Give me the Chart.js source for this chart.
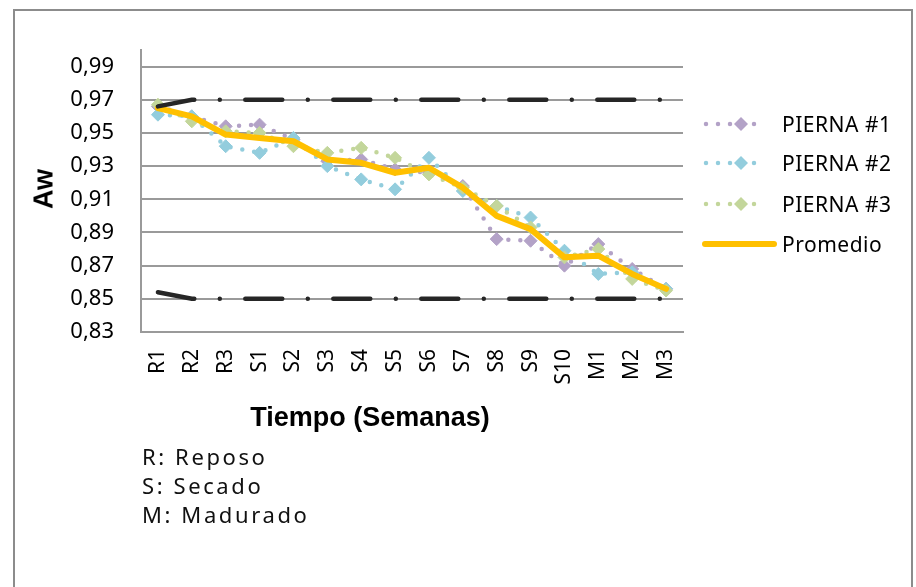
<!DOCTYPE html>
<html>
<head>
<meta charset="utf-8">
<script src="https://cdn.jsdelivr.net/npm/chart.js@4.4.0/dist/chart.umd.min.js"></script>
<style>
  html, body { margin: 0; padding: 0; width: 916px; height: 587px; overflow: hidden; background: #fff; }
  body { position: relative; font-family: "Noto Sans", sans-serif; color: #000; }
  #frame { position: absolute; left: 13px; top: 9px; width: 896px; height: 640px; border: 2px solid #8c8c8c; }
  #wrap { position: absolute; left: 0; top: 0; width: 916px; height: 587px; }
  .ttl { position: absolute; font-family: "Liberation Sans", Arial, sans-serif; font-weight: bold; font-size: 27px; white-space: nowrap; }
  #ytitle { left: 44px; top: 189px; transform: translate(-50%, -50%) rotate(-90deg); }
  #xtitle { left: 370px; top: 417px; transform: translate(-50%, -50%); }
  #notas { position: absolute; left: 142px; top: 442px; font-size: 22px; line-height: 29px; letter-spacing: 2.6px; color: #111; }
  .leg { position: absolute; left: 701px; height: 24px; display: flex; align-items: center; font-size: 21px; letter-spacing: 0.5px; white-space: nowrap; }
  .leg svg { margin-right: 5px; }
</style>
</head>
<body>
<div id="frame"></div>
<div id="wrap"><canvas id="aw-chart"></canvas></div>
<div class="ttl" id="ytitle">Aw</div>
<div class="ttl" id="xtitle">Tiempo (Semanas)</div>
<div id="notas">R: Reposo<br>S: Secado<br>M: Madurado</div>
<div id="leyenda"></div>
<script>
const semanas = ['R1', 'R2', 'R3', 'S1', 'S2', 'S3', 'S4', 'S5', 'S6', 'S7', 'S8', 'S9', 'S10', 'M1', 'M2', 'M3'];
const pierna1 = [0.966, 0.960, 0.954, 0.955, 0.946, 0.933, 0.934, 0.928, 0.926, 0.918, 0.886, 0.885, 0.870, 0.883, 0.868, 0.856];
const pierna2 = [0.961, 0.960, 0.942, 0.938, 0.947, 0.930, 0.922, 0.916, 0.935, 0.915, 0.906, 0.899, 0.879, 0.865, 0.866, 0.856];
const pierna3 = [0.967, 0.957, 0.951, 0.950, 0.942, 0.938, 0.941, 0.935, 0.925, 0.917, 0.906, 0.893, 0.875, 0.880, 0.862, 0.855];
const promedio = [0.965, 0.960, 0.949, 0.947, 0.945, 0.934, 0.932, 0.926, 0.929, 0.917, 0.900, 0.892, 0.875, 0.876, 0.865, 0.856];
// límites superior e inferior (línea negra discontinua)
const limiteSup = [0.966, 0.970, 0.970, 0.970, 0.970, 0.970, 0.970, 0.970, 0.970, 0.970, 0.970, 0.970, 0.970, 0.970, 0.970, 0.970];
const limiteInf = [0.854, 0.850, 0.850, 0.850, 0.850, 0.850, 0.850, 0.850, 0.850, 0.850, 0.850, 0.850, 0.850, 0.850, 0.850, 0.850];
const ticksAw = [0.83, 0.85, 0.87, 0.89, 0.91, 0.93, 0.95, 0.97, 0.99];

const gris = '#9a9a9a';

const serieDiamante = (label, data, color, order) => ({
  label, data, order,
  borderColor: color,
  borderWidth: 4.5,
  borderDash: [0, 12],
  borderCapStyle: 'round',
  pointStyle: 'rectRot',
  pointRadius: 6.5,
  pointBackgroundColor: color,
  pointBorderColor: color,
  pointBorderWidth: 1,
  tension: 0
});

const serieLimite = (data) => ({
  label: '', data, order: 0,
  borderColor: '#262626',
  borderWidth: 4.5,
  borderDash: [37, 25.5, 0, 25.5],
  borderCapStyle: 'round',
  pointRadius: 0,
  tension: 0
});

const series = [
  serieDiamante('PIERNA #1', pierna1, '#B3A2C7', 4),
  serieDiamante('PIERNA #2', pierna2, '#93CDDD', 3),
  serieDiamante('PIERNA #3', pierna3, '#C3D69B', 2),
  {
    label: 'Promedio', data: promedio, order: 1,
    borderColor: '#FFC000', borderWidth: 6,
    borderJoinStyle: 'round', borderCapStyle: 'round',
    pointRadius: 0, tension: 0
  },
  serieLimite(limiteSup),
  serieLimite(limiteInf)
];

new Chart(document.getElementById('aw-chart'), {
  type: 'line',
  data: { labels: semanas, datasets: series },
  options: {
    responsive: true,
    maintainAspectRatio: false,
    animation: false,
    layout: { padding: { top: 50, right: 233, left: 0, bottom: 0 } },
    plugins: { legend: { display: false }, tooltip: { enabled: false } },
    scales: {
      x: {
        offset: true,
        grid: { display: false },
        border: { color: gris, width: 2 },
        ticks: { autoSkip: false, minRotation: 90, maxRotation: 90, padding: 9, font: { family: 'Noto Sans', size: 21 }, color: '#000' },
        afterFit: (s) => { s.height = 255; }
      },
      y: {
        min: 0.83,
        max: 1.0,
        afterBuildTicks: (s) => { s.ticks = ticksAw.map(v => ({ value: v })); },
        grid: { color: gris, lineWidth: 2, drawTicks: false },
        border: { color: gris, width: 2 },
        ticks: { padding: 27, font: { family: 'Noto Sans', size: 22 }, color: '#000', callback: (v) => v.toFixed(2).replace('.', ',') },
        afterFit: (s) => { s.width = 141; }
      }
    }
  }
});

// Leyenda en HTML (las líneas negras no aparecen en ella)
const filasY = [124, 163, 204, 244];
const leyenda = document.getElementById('leyenda');
series.slice(0, 4).forEach((ds, i) => {
  const fila = document.createElement('div');
  fila.className = 'leg';
  fila.style.top = (filasY[i] - 12) + 'px';
  let svg;
  if (ds.pointStyle === 'rectRot') {
    svg = `<svg width="76" height="20"><line x1="5" y1="10" x2="65" y2="10" stroke="${ds.borderColor}" stroke-width="4.5" stroke-linecap="round" stroke-dasharray="0 12"/>` +
          `<polygon points="40,3 47,10 40,17 33,10" fill="${ds.borderColor}"/></svg>`;
  } else {
    svg = `<svg width="76" height="20"><line x1="4" y1="10" x2="73" y2="10" stroke="${ds.borderColor}" stroke-width="6" stroke-linecap="round"/></svg>`;
  }
  fila.innerHTML = svg + '<span>' + ds.label + '</span>';
  leyenda.appendChild(fila);
});
</script>
</body>
</html>
